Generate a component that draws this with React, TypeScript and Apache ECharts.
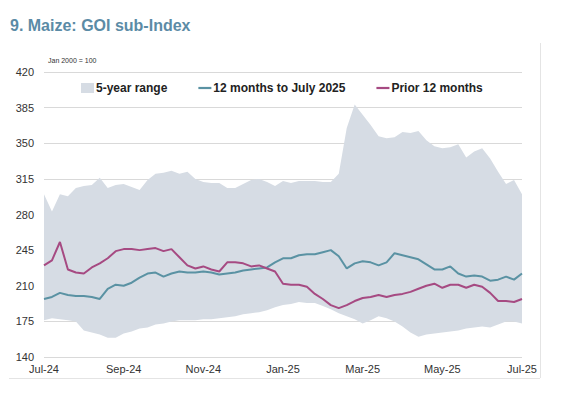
import React, { useEffect, useRef } from "react";
import * as echarts from "echarts";

const monthLabels = ["Jul-24", "Sep-24", "Nov-24", "Jan-25", "Mar-25", "May-25", "Jul-25"];
const yTicks = { min: 140, max: 420, interval: 35 };

// ~6-day sample points, Jul-24 .. Jul-25 (61 points)
const rangeLow = [
  176, 178, 177, 176, 175, 166, 164, 162, 159, 159,
  163, 165, 168, 169, 172, 173, 175, 176, 176, 176,
  177, 177, 178, 179, 180, 182, 183, 184, 186, 189,
  191, 192, 194, 193, 193, 190, 187, 183, 180, 177,
  173, 176, 180, 178, 175, 170, 164, 160, 162, 163,
  164, 165, 166, 168, 169, 170, 169, 172, 175, 175,
  173,
];
const rangeHigh = [
  300, 283, 300, 298, 306, 308, 309, 316, 306, 309,
  310, 307, 304, 314, 320, 321, 323, 320, 322, 315,
  312, 311, 311, 306, 306, 310, 314, 315, 312, 308,
  313, 311, 313, 313, 313, 312, 312, 320, 365, 388,
  378, 368, 357, 355, 356, 361, 360, 362, 353, 347,
  345, 346, 349, 336, 342, 345, 335, 322, 310, 314,
  300,
];
const current12 = [
  197, 199, 203, 201, 200, 200, 199, 197, 207, 211,
  210, 213, 218, 222, 223, 219, 222, 224, 223, 223,
  224, 223, 221, 222, 223, 225, 226, 227, 228, 233,
  237, 237, 240, 241, 241, 243, 245, 239, 227, 232,
  234, 233, 230, 233, 242, 240, 238, 236, 231, 226,
  226, 229, 222, 219, 220, 219, 215, 216, 219, 216,
  222,
];
const prior12 = [
  230, 235, 253, 226, 223, 222, 228, 232, 237, 244,
  246, 246, 245, 246, 247, 244, 246, 238, 230, 227,
  229, 226, 224, 233, 233, 232, 229, 230, 227, 224,
  212, 211, 211, 209, 202, 197, 191, 188, 191, 195,
  198, 199, 201, 199, 201, 202, 204, 207, 210, 212,
  208, 211, 211, 208, 211, 209, 203, 195, 195, 194,
  197,
];

const categories = rangeLow.map((_, i) => String(i));

const GREY = "#d6dce4";
const TEAL = "#5a92a3";
const MAGENTA = "#a64a82";

export default function App() {
  const ref = useRef<HTMLDivElement>(null);
  useEffect(() => {
    if (!ref.current) return;
    const chart = echarts.init(ref.current, undefined, { renderer: "svg" });
    const diff = rangeHigh.map((v, i) => v - rangeLow[i]);
    const lineIcon = "path://M0,4 L13,4 L13,6.2 L0,6.2 Z";
    chart.setOption({
      animation: false,
      backgroundColor: "#ffffff",
      title: {
        text: "9. Maize: GOI sub-Index",
        left: 5,
        top: 12,
        textStyle: { fontFamily: "Liberation Sans, Arial", fontSize: 16, fontWeight: "bold", color: "#5b8ba6" },
      },
      graphic: [
        {
          type: "text",
          left: 48,
          top: 57,
          style: { text: "Jan 2000 = 100", font: "7px Liberation Sans, Arial", fill: "#333" },
        },
        { type: "line", shape: { x1: 9, y1: 378.5, x2: 540, y2: 378.5 }, style: { stroke: "#e4e4e4", lineWidth: 1 } },
        { type: "line", shape: { x1: 540.5, y1: 43, x2: 540.5, y2: 378 }, style: { stroke: "#e4e4e4", lineWidth: 1 } },
      ],
      legend: {
        left: 76,
        top: 77,
        itemWidth: 13,
        itemHeight: 10,
        itemGap: 31,
        textStyle: { fontFamily: "Liberation Sans, Arial", fontSize: 12, fontWeight: "bold", color: "#222", padding: [0, 0, 0, -3] },
        data: [
          { name: "5-year range", icon: "rect" },
          { name: "12 months to July 2025", icon: lineIcon },
          { name: "Prior 12 months", icon: lineIcon },
        ],
      },
      grid: { left: 44, right: 45, top: 72, bottom: 37 },
      xAxis: {
        type: "category",
        data: categories,
        boundaryGap: false,
        axisLine: { show: false },
        axisTick: { show: false },
        axisLabel: {
          interval: 9,
          margin: 6,
          color: "#333",
          fontFamily: "Liberation Sans, Arial",
          fontSize: 11,
          formatter: (_v: string, idx: number) => monthLabels[Math.round(idx / 10)] ?? "",
        },
        splitLine: { show: false },
      },
      yAxis: {
        type: "value",
        min: yTicks.min,
        max: yTicks.max,
        interval: yTicks.interval,
        axisLine: { show: false },
        axisTick: { show: false },
        axisLabel: { color: "#333", fontFamily: "Liberation Sans, Arial", fontSize: 11, margin: 10 },
        splitLine: { lineStyle: { color: "#d9d9d9", width: 1.2 } },
      },
      series: [
        {
          name: "range-low",
          type: "line",
          stack: "range",
          data: rangeLow,
          symbol: "none",
          lineStyle: { width: 0, opacity: 0 },
          silent: true,
        },
        {
          name: "5-year range",
          type: "line",
          stack: "range",
          data: diff,
          symbol: "none",
          lineStyle: { width: 0, opacity: 0 },
          itemStyle: { color: GREY },
          areaStyle: { color: GREY, opacity: 1 },
        },
        {
          name: "12 months to July 2025",
          type: "line",
          data: current12,
          symbol: "none",
          itemStyle: { color: TEAL },
          lineStyle: { color: TEAL, width: 2 },
        },
        {
          name: "Prior 12 months",
          type: "line",
          data: prior12,
          symbol: "none",
          itemStyle: { color: MAGENTA },
          lineStyle: { color: MAGENTA, width: 2 },
        },
      ],
    });
    return () => chart.dispose();
  }, []);
  return <div ref={ref} style={{ position: "fixed", left: 0, top: 0, width: 567, height: 394 }} />;
}
